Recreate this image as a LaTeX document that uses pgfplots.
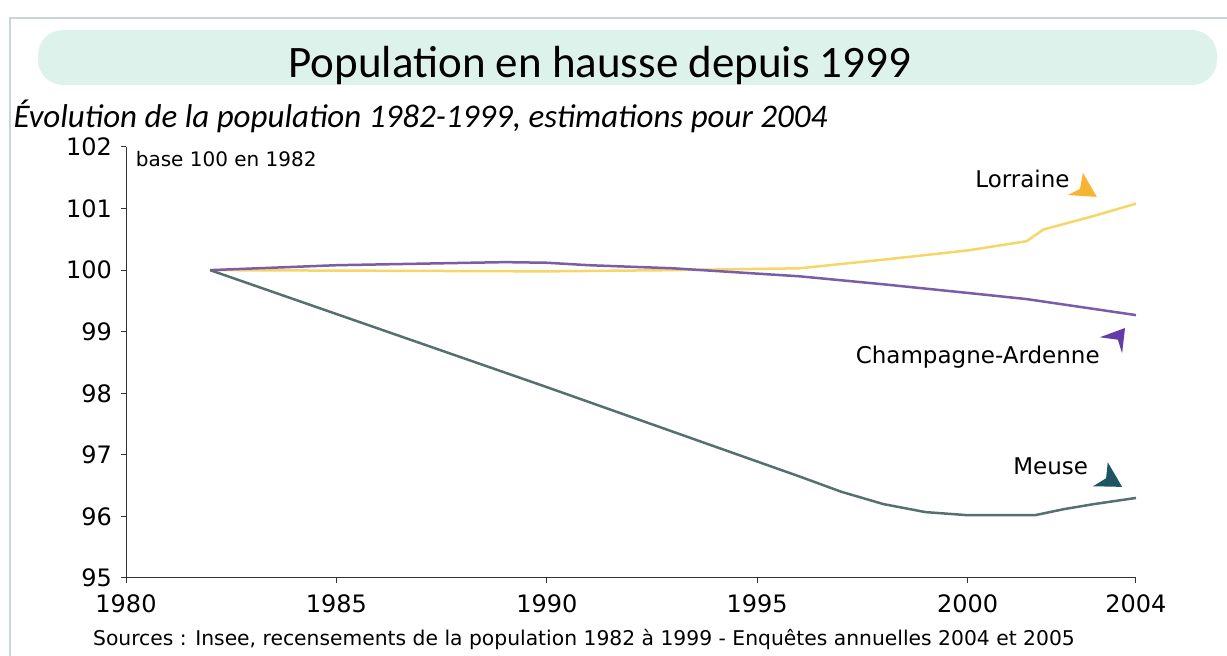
\documentclass[border=0pt]{standalone}
\usepackage{pgfplots}
\pgfplotsset{compat=1.18}
\usepackage{fontspec}
\setmainfont{DejaVu Sans}
\newfontfamily\titlefont{Carlito}
\definecolor{lorraine}{RGB}{246,214,102}
\definecolor{lorrarrow}{RGB}{245,180,50}
\definecolor{champ}{RGB}{122,92,170}
\definecolor{champarrow}{RGB}{100,60,170}
\definecolor{meuse}{RGB}{85,112,112}
\definecolor{meusearrow}{RGB}{30,85,100}
\definecolor{band}{RGB}{222,242,236}
\definecolor{framec}{RGB}{200,214,218}

\begin{document}
\begin{tikzpicture}
\path[use as bounding box] (0pt,0pt) rectangle (1227pt,656pt);
% frame and title band
\draw[framec, line width=1.5pt] (10pt,0pt) -- (10pt,638pt) -- (1227pt,638pt);
\fill[band, rounded corners=25pt] (38pt,571pt) rectangle (1217pt,626pt);
\node[font=\titlefont\fontsize{45}{45}\selectfont] at (600pt,590pt) {Population en hausse depuis 1999};
\node[font=\titlefont\itshape\fontsize{33}{33}\selectfont, anchor=base west, inner ysep=1pt] at (10pt,528pt)
  {Évolution de la population 1982-1999, estimations pour 2004};
\node[font=\fontsize{20.3}{20}\selectfont, anchor=base] at (584pt,10pt)
  {Sources : Insee, recensements de la population 1982 à 1999 - Enquêtes annuelles 2004 et 2005};

\begin{axis}[
    at={(126pt,78pt)}, anchor=south west,
    scale only axis,
    width=1010pt, height=431pt,
    xmin=1980, xmax=2004,
    ymin=95, ymax=102,
    axis x line*=bottom,
    axis y line*=left,
    xtick={1980,1985,1990,1995,2000,2004},
    ytick={95,96,...,102},
    x tick label style={/pgf/number format/.cd,1000 sep={},/tikz/.cd},
    /pgf/number format/assume math mode=true,
    tick label style={font=\fontsize{24}{24}\selectfont, inner sep=1pt},
    tick align=outside,
    major tick length=5pt,
    axis line style={black!80, line width=1pt},
    tick style={black!80, line width=1pt},
    xticklabel style={yshift=-10pt},
    yticklabel style={xshift=-8pt},
    clip=false,
]
\addplot[color=lorraine, line width=2.5pt] coordinates {
    (1982,100.00)(1986,99.99)(1990,99.98)(1993,100.00)(1996,100.03)
    (1998,100.17)(2000,100.32)(2001.4,100.47)(2001.8,100.66)(2003,100.88)(2004,101.08)
};
\addplot[color=champ, line width=2.5pt] coordinates {
    (1982,100.00)(1985,100.08)(1989,100.13)(1990,100.12)(1991,100.08)
    (1993,100.03)(1996,99.90)(1998,99.77)(2000,99.63)(2001.4,99.53)(2004,99.27)
};
\addplot[color=meuse, line width=2.5pt] coordinates {
    (1982,100.00)(1990,98.10)(1996,96.65)(1997,96.40)(1998,96.20)(1999,96.07)
    (2000,96.02)(2001.6,96.02)(2002.3,96.12)(2003,96.20)(2004,96.30)
};
\node[font=\fontsize{20}{20}\selectfont, anchor=west] at (axis cs:1980.15,101.8) {base 100 en 1982};
\node[font=\fontsize{23}{23}\selectfont, anchor=west] at (axis cs:2000.1,101.48) {Lorraine};
\node[font=\fontsize{23}{23}\selectfont, anchor=east] at (axis cs:2003.22,98.59) {Champagne-Ardenne};
\node[font=\fontsize{23}{23}\selectfont, anchor=west] at (axis cs:2001.0,96.82) {Meuse};
\fill[lorrarrow] (axis cs:2002.74,101.58) -- (axis cs:2002.67,101.32) -- (axis cs:2002.38,101.22) -- (axis cs:2003.07,101.19) -- cycle;
\fill[champarrow] (axis cs:2003.74,99.06) -- (axis cs:2003.14,98.91) -- (axis cs:2003.57,98.87) -- (axis cs:2003.67,98.65) -- cycle;
\fill[meusearrow] (axis cs:2003.33,96.88) -- (axis cs:2003.29,96.62) -- (axis cs:2002.98,96.49) -- (axis cs:2003.67,96.48) -- cycle;
\end{axis}
\end{tikzpicture}
\end{document}
